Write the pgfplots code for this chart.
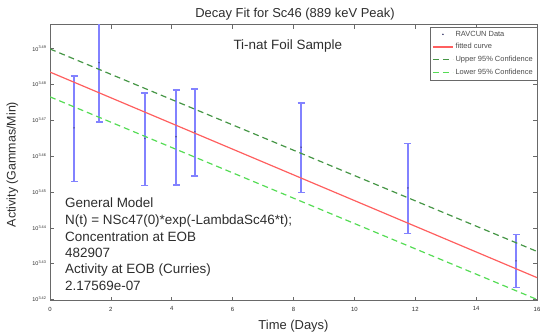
\documentclass[border=0pt]{standalone}
\usepackage{fontspec}
\setmainfont{Liberation Sans}
\usepackage{pgfplots}
\pgfplotsset{compat=1.18}
\usepackage{pgfplotstable}

\definecolor{ebblue}{RGB}{130,130,255}
\definecolor{fitred}{RGB}{255,95,95}
\definecolor{updark}{RGB}{70,150,70}
\definecolor{lolight}{RGB}{85,220,85}
\definecolor{framegray}{RGB}{105,105,105}
\definecolor{txtgray}{RGB}{45,45,45}

\pgfplotstableread{
t a e
0.79 2937.0 99.7
1.61 3062.7 114.2
3.12 2917.0 87.0
4.14 2920.5 89.0
4.76 2929.7 82.0
8.25 2900.9 83.8
11.76 2825.8 81.6
15.31 2696.3 46.0
}\rawdata

\pgfplotstableread{
t fit upper lower
0 3044.4 3090.0 2996.4
16 2667.5 2712.7 2630.3
}\fitdata

\begin{document}
\begin{tikzpicture}
\useasboundingbox (0,0) rectangle (540bp,336bp);
\begin{axis}[
  at={(50bp,35bp)}, anchor=south west,
  width=487bp, height=276bp, scale only axis,
  xmin=0, xmax=16,
  ymode=log, ymin=2628, ymax=3138.3,
  xtick={0,2,...,16},
  ytick={2630.27,2691.53,2754.23,2818.38,2884.03,2951.21,3019.95,3090.30},
  yticklabels={10\textsuperscript{3.42},10\textsuperscript{3.43},10\textsuperscript{3.44},10\textsuperscript{3.45},10\textsuperscript{3.46},10\textsuperscript{3.47},10\textsuperscript{3.48},10\textsuperscript{3.49}},
  minor ytick={},
  tick align=inside,
  major tick length=4bp,
  axis line style={framegray, line width=0.8bp},
  every tick/.style={framegray, line width=0.6bp},
  /pgf/number format/assume math mode=true,
  xticklabel style={font=\fontsize{6}{7}\selectfont, text=txtgray, yshift=-2.5bp},
  yticklabel style={font=\fontsize{5.5}{6}\selectfont, text=txtgray},
  legend style={at={(1,0.993)}, anchor=north east, draw=framegray, fill=white,
    font=\fontsize{7.5}{9}\selectfont, text=black!70, inner sep=2bp,
    row sep=1.8bp, legend cell align=left},
  legend image code/.code={\draw[#1] (0bp,0bp) -- (20bp,0bp);},
]
\addplot[only marks, mark=*, mark size=0.5pt, color=ebblue!60!black,
  legend image code/.code={\fill[ebblue!40!black] (10bp,0bp) circle (0.5pt);},
  error bars/.cd, y dir=both, y explicit,
  error bar style={ebblue, line width=1.6bp},
  error mark options={rotate=90, mark size=3.5bp, ebblue, line width=1.4bp}]
  table[x=t, y=a, y error=e]{\rawdata};
\addlegendentry{RAVCUN Data}
\addplot[fitred, line width=1.2bp] table[x=t, y=fit]{\fitdata};
\addlegendentry{fitted curve}
\addplot[updark, line width=1.2bp, dash pattern=on 6bp off 4bp] table[x=t, y=upper]{\fitdata};
\addlegendentry{Upper 95\% Confidence}
\addplot[lolight, line width=1.2bp, dash pattern=on 6bp off 4bp] table[x=t, y=lower]{\fitdata};
\addlegendentry{Lower 95\% Confidence}
\end{axis}
\node[anchor=base, font=\fontsize{13}{15}\selectfont, text=txtgray] at (295bp,318bp) {Decay Fit for Sc46 (889 keV Peak)};
\node[anchor=base west, font=\fontsize{13.5}{16}\selectfont, text=txtgray] at (230bp,286bp) {Ti-nat Foil Sample};
\node[anchor=base, font=\fontsize{13}{15}\selectfont, text=txtgray] at (293.5bp,6.5bp) {Time (Days)};
\node[anchor=base, rotate=90, font=\fontsize{12.5}{15}\selectfont, text=txtgray] at (15.5bp,171.5bp) {Activity (Gammas/Min)};
\begin{scope}[every node/.style={anchor=base west, inner sep=0pt, font=\fontsize{13.5}{16}\selectfont, text=txtgray}]
\node at (65bp,128bp) {General Model};
\node at (65bp,111.5bp) {N(t) = NSc47(0)*exp(-LambdaSc46*t);};
\node at (65bp,94.5bp) {Concentration at EOB};
\node at (65bp,78.5bp) {482907};
\node at (65bp,62bp) {Activity at EOB (Curries)};
\node at (65bp,45bp) {2.17569e-07};
\end{scope}
\end{tikzpicture}
\end{document}
